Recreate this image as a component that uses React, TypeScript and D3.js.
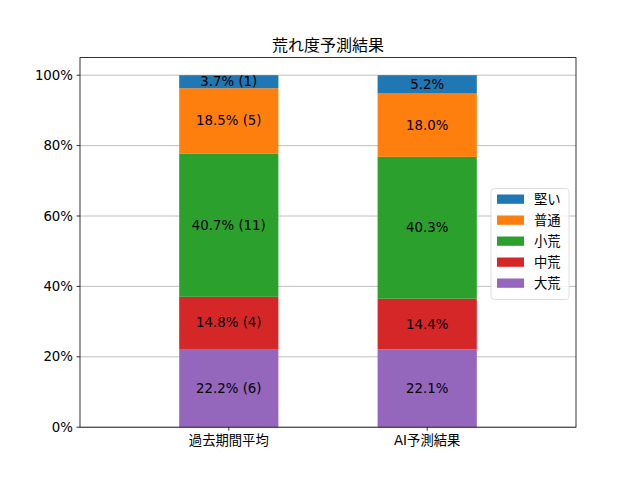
import React from "react";
import * as d3 from "d3";

const categories = ["過去期間平均", "AI予測結果"];
const levels = ["大荒", "中荒", "小荒", "普通", "堅い"];
const colors = ["#9467bd", "#d62728", "#2ca02c", "#ff7f0e", "#1f77b4"];
const pastCounts = [6, 4, 11, 5, 1];
const aiPercents = [22.1, 14.4, 40.3, 18.0, 5.2];
const yTicks = [0, 0.2, 0.4, 0.6, 0.8, 1.0];

const W = 640, H = 480;
const L = 80, R = 576, T = 57.6, B = 427.2;
const FONT = "'DejaVu Sans', 'Noto Sans CJK JP', sans-serif";

export default function App() {
  const total = d3.sum(pastCounts);
  const pastFrac = pastCounts.map((c) => c / total);
  const aiFrac = aiPercents.map((p) => p / 100);
  const series = [pastFrac, aiFrac];

  const x = d3.scaleLinear().domain([-0.75, 1.75]).range([L, R]);
  const y = d3.scaleLinear().domain([0, 1.05]).range([B, T]);
  const bw = x(0.25) - x(0);

  const bars: any[] = [];
  series.forEach((vals, ci) => {
    let acc = 0;
    vals.forEach((v, li) => {
      const y0 = acc, y1 = acc + v;
      acc = y1;
      const label =
        ci === 0
          ? `${(v * 100).toFixed(1)}% (${pastCounts[li]})`
          : `${aiPercents[li].toFixed(1)}%`;
      bars.push({ ci, li, y0, y1, label });
    });
  });

  const legendItems = [...levels].map((l, i) => ({ l, c: colors[i] })).reverse();
  const lgX = 491, lgY = 188.5, lgW = 78, rowH = 21;
  const lgH = 8 + legendItems.length * rowH - 2;

  return (
    <svg width={W} height={H} style={{ position: "absolute", left: 0, top: 0 }} fontFamily={FONT}>
      <rect x={0} y={0} width={W} height={H} fill="#fff" />
      {yTicks.map((t) => (
        <line key={t} x1={L} x2={R} y1={y(t)} y2={y(t)} stroke="#b0b0b0" strokeWidth={0.8} />
      ))}
      {bars.map((b, i) => (
        <rect
          key={i}
          x={x(b.ci) - bw}
          width={bw * 2}
          y={y(b.y1)}
          height={y(b.y0) - y(b.y1)}
          fill={colors[b.li]}
        />
      ))}
      {bars.map((b, i) => (
        <text
          key={"t" + i}
          x={x(b.ci)}
          y={(y(b.y0) + y(b.y1)) / 2}
          textAnchor="middle"
          dominantBaseline="central"
          fontSize={13.33}
          fill="#000"
        >
          {b.label}
        </text>
      ))}
      <rect x={L} y={T} width={R - L} height={B - T} fill="none" stroke="#000" strokeWidth={0.8} />
      {yTicks.map((t) => (
        <g key={"yt" + t}>
          <line x1={L - 3.5} x2={L} y1={y(t)} y2={y(t)} stroke="#000" strokeWidth={0.8} />
          <text x={L - 7} y={y(t)} textAnchor="end" dominantBaseline="central" fontSize={13.33}>
            {`${Math.round(t * 100)}%`}
          </text>
        </g>
      ))}
      {categories.map((c, i) => (
        <g key={c}>
          <line x1={x(i)} x2={x(i)} y1={B} y2={B + 3.5} stroke="#000" strokeWidth={0.8} />
          <text x={x(i)} y={B + 8} textAnchor="middle" dominantBaseline="hanging" fontSize={13.33}>
            {c}
          </text>
        </g>
      ))}
      <text x={(L + R) / 2} y={T - 7} textAnchor="middle" fontSize={16}>
        荒れ度予測結果
      </text>
      <g>
        <rect
          x={lgX}
          y={lgY}
          width={lgW}
          height={lgH}
          rx={3}
          fill="#fff"
          fillOpacity={0.8}
          stroke="#d6d6d6"
          strokeWidth={0.8}
        />
        {legendItems.map((it, i) => (
          <g key={it.l}>
            <rect x={lgX + 6} y={lgY + 6 + i * rowH} width={27} height={9.3} fill={it.c} />
            <text
              x={lgX + 43}
              y={lgY + 6 + i * rowH + 4.7}
              dominantBaseline="central"
              fontSize={13.33}
            >
              {it.l}
            </text>
          </g>
        ))}
      </g>
    </svg>
  );
}
